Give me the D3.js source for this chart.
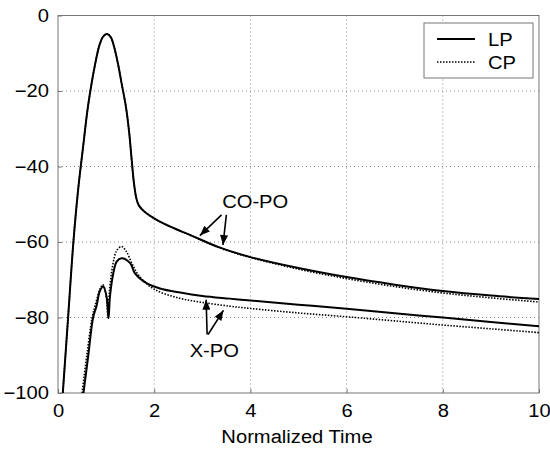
<!DOCTYPE html>
<html>
<head>
<meta charset="utf-8">
<title>Normalized Time</title>
<script src="https://d3js.org/d3.v7.min.js"></script>
<style>
  body { margin: 0; background: #fff; }
  svg { font-family: "Liberation Sans", Arial, sans-serif; }
</style>
</head>
<body>
<div id="chart"></div>
<script>
// CO-PO curves
const coTime = [0.10, 0.21, 0.32, 0.42, 0.52, 0.63, 0.77, 0.87, 0.95, 1.02, 1.10, 1.17, 1.25, 1.33, 1.41, 1.48, 1.53, 1.58, 1.63, 1.68, 1.80, 2.06, 2.40, 2.74, 3.37, 4, 5, 6, 7, 8, 9, 10];
const coLP = [-100, -80, -60, -46, -35, -23.5, -13, -7.5, -5.4, -4.9, -5.8, -8.5, -13, -18.5, -24, -31, -38, -44.5, -48.5, -50.3, -52, -54.2, -56.3, -58.1, -61.5, -64.0, -66.9, -69.3, -71.3, -73, -74.2, -75.1];
const coCP = [-100, -80, -60, -46, -35, -23.5, -13, -7.5, -5.4, -4.9, -5.8, -8.5, -13, -18.5, -24, -31, -38, -44.5, -48.5, -50.3, -52, -54.2, -56.3, -58.1, -61.6, -64.1, -67.2, -69.7, -71.8, -73.5, -74.8, -75.9];

// X-PO curves
const xTimeLP = [0.53, 0.63, 0.73, 0.80, 0.87, 0.94, 1.01, 1.05, 1.08, 1.15, 1.22, 1.32, 1.50, 1.60, 1.84, 2.12, 2.54, 3, 3.57, 4, 5, 6, 7, 8, 9, 10];
const xLP = [-100, -90, -80, -77, -73, -71.8, -74.5, -80.2, -74.5, -68.3, -65.2, -64.3, -65.6, -68.3, -70.9, -72.3, -73.4, -74.3, -75.0, -75.5, -76.6, -77.7, -78.9, -80, -81.2, -82.3];
const xTimeCP = [0.50, 0.60, 0.71, 0.79, 0.87, 0.93, 1.00, 1.04, 1.07, 1.14, 1.22, 1.32, 1.42, 1.55, 1.70, 2.0, 2.5, 3, 3.57, 4, 5, 6, 7, 8, 9, 10];
const xCP = [-100, -90, -80, -76, -72.5, -71.3, -74, -80, -73, -66, -62.3, -61.2, -62.5, -66, -69.2, -72.5, -74.8, -76, -77.0, -77.6, -78.8, -79.8, -80.9, -82, -83, -84];

const xTicks = [0, 2, 4, 6, 8, 10];
const yTicks = [0, -20, -40, -60, -80, -100];
const legendNames = ["LP", "CP"];

const width = 550, height = 450;
const margin = { top: 15.5, right: 11, bottom: 57, left: 58 };
const w = width - margin.left - margin.right;
const h = height - margin.top - margin.bottom;
const fs = 18;

const svg = d3.select("#chart").append("svg")
    .attr("width", width)
    .attr("height", height);

const defs = svg.append("defs");
defs.append("clipPath").attr("id", "clip")
    .append("rect").attr("width", w).attr("height", h);
defs.append("marker")
    .attr("id", "arrow")
    .attr("viewBox", "0 0 10 8")
    .attr("refX", 10).attr("refY", 4)
    .attr("markerWidth", 11).attr("markerHeight", 8)
    .attr("markerUnits", "userSpaceOnUse")
    .attr("orient", "auto")
    .append("path").attr("d", "M0,0L10,4L0,8Z").attr("fill", "#000");

const g = svg.append("g").attr("transform", `translate(${margin.left},${margin.top})`);

const x = d3.scaleLinear().domain([0, 10]).range([0, w]);
const y = d3.scaleLinear().domain([-100, 0]).range([h, 0]);

// grid
g.append("g").selectAll("line").data(xTicks.slice(1, -1)).join("line")
    .attr("x1", d => x(d)).attr("x2", d => x(d))
    .attr("y1", 0).attr("y2", h)
    .attr("stroke", "#888").attr("stroke-width", 1).attr("stroke-dasharray", "1,3");
g.append("g").selectAll("line").data(yTicks.slice(1, -1)).join("line")
    .attr("y1", d => y(d)).attr("y2", d => y(d))
    .attr("x1", 0).attr("x2", w)
    .attr("stroke", "#888").attr("stroke-width", 1).attr("stroke-dasharray", "1,3");

// axes, ticks pointing inside
const xAxis = g.append("g").attr("transform", `translate(0,${h})`)
    .call(d3.axisBottom(x).tickValues(xTicks).tickSize(-4).tickPadding(11));
const yAxis = g.append("g")
    .call(d3.axisLeft(y).tickValues(yTicks).tickSize(-4).tickPadding(9));
[xAxis, yAxis].forEach(a => {
    a.select(".domain").remove();
    a.selectAll("line").attr("stroke", "#777");
    a.selectAll("text").attr("font-size", fs).attr("fill", "#000")
        .attr("font-family", "Liberation Sans, Arial, sans-serif");
});

// frame
g.append("rect").attr("width", w).attr("height", h)
    .attr("fill", "none").attr("stroke", "#777").attr("stroke-width", 1);

const line = d3.line()
    .x(d => x(d[0])).y(d => y(d[1]))
    .curve(d3.curveCatmullRom.alpha(0.5));

const plot = g.append("g").attr("clip-path", "url(#clip)");

const series = [
    { t: coTime, v: coCP, dash: "1.5,1.5", sw: 1.6 },
    { t: xTimeCP, v: xCP, dash: "1.5,1.5", sw: 1.6 },
    { t: coTime, v: coLP, dash: null, sw: 2 },
    { t: xTimeLP, v: xLP, dash: null, sw: 2 }
];
series.forEach(s => {
    plot.append("path")
        .datum(d3.zip(s.t, s.v))
        .attr("d", line)
        .attr("fill", "none")
        .attr("stroke", "#000")
        .attr("stroke-width", s.sw)
        .attr("stroke-dasharray", s.dash);
});

// annotations
g.append("text").attr("x", x(4.1)).attr("y", y(-51))
    .attr("text-anchor", "middle").attr("font-size", fs).text("CO-PO");
g.append("text").attr("x", x(3.25)).attr("y", y(-90.5))
    .attr("text-anchor", "middle").attr("font-size", fs).text("X-PO");

const arrows = [
    [[3.4, -52.8], [2.95, -58.3]],
    [[3.5, -52.8], [3.43, -60.8]],
    [[3.1, -84.5], [3.08, -75.3]],
    [[3.12, -84.5], [3.44, -78.1]]
];
g.append("g").selectAll("line").data(arrows).join("line")
    .attr("x1", d => x(d[0][0])).attr("y1", d => y(d[0][1]))
    .attr("x2", d => x(d[1][0])).attr("y2", d => y(d[1][1]))
    .attr("stroke", "#000").attr("stroke-width", 1.6)
    .attr("marker-end", "url(#arrow)");

// axis label
svg.append("text")
    .attr("x", 297).attr("y", 443)
    .attr("text-anchor", "middle").attr("font-size", fs)
    .text("Normalized Time");

// legend
const lg = svg.append("g").attr("transform", "translate(424,23)");
lg.append("rect").attr("width", 109).attr("height", 55)
    .attr("fill", "#fff").attr("stroke", "#777").attr("stroke-width", 1);
legendNames.forEach((name, i) => {
    lg.append("line")
        .attr("x1", 13).attr("x2", 51)
        .attr("y1", 16 + i * 23).attr("y2", 16 + i * 23)
        .attr("stroke", "#000")
        .attr("stroke-width", i === 0 ? 2 : 1.6)
        .attr("stroke-dasharray", i === 0 ? null : "1.5,1.5");
    lg.append("text")
        .attr("x", 64).attr("y", 23 + i * 23)
        .attr("font-size", fs).text(name);
});

// the original lettering is a bit wider than Liberation Sans
svg.selectAll("text").each(function() {
    const len = this.getComputedTextLength();
    d3.select(this).attr("textLength", len * 1.12).attr("lengthAdjust", "spacingAndGlyphs");
});
</script>
</body>
</html>
